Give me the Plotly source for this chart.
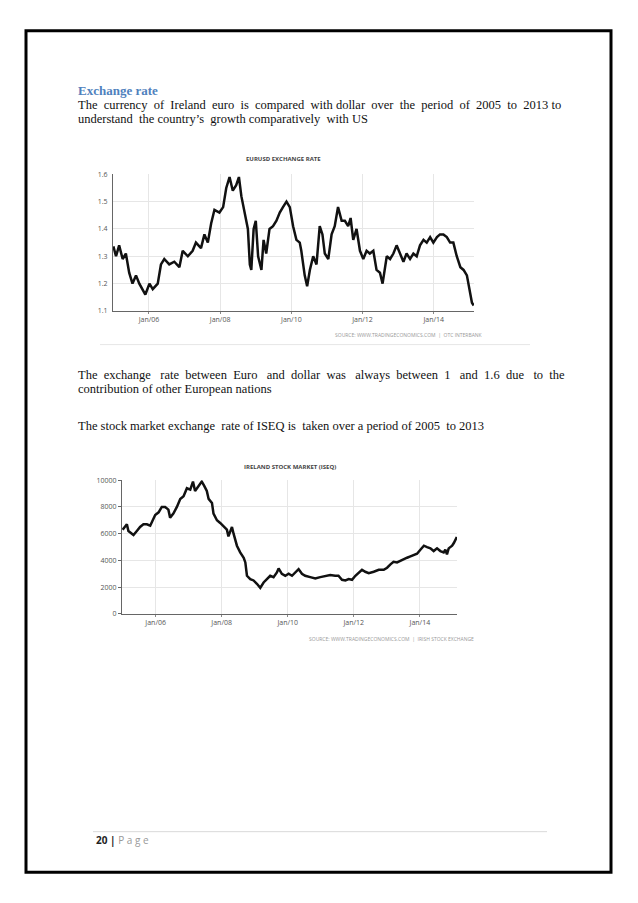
import plotly.graph_objects as go

W, H = 638, 903

# ---------------- data ----------------
eur_dates = ["2005-01-01","2005-01-28","2005-03-01","2005-04-06","2005-05-09","2005-06-12","2005-07-16","2005-08-21",
             "2005-09-24","2005-10-28","2005-11-25","2006-01-06","2006-02-09","2006-04-01","2006-05-04","2006-06-07",
             "2006-07-28","2006-09-18","2006-11-09","2006-12-13","2007-02-04","2007-03-25","2007-04-28","2007-06-19",
             "2007-07-24","2007-08-28","2007-10-01","2007-11-04","2007-12-25","2008-02-01","2008-03-04","2008-04-07",
             "2008-05-10","2008-06-14","2008-07-12","2008-08-06","2008-09-09","2008-10-12","2008-11-01","2008-11-16",
             "2008-12-10","2009-01-01","2009-01-25","2009-02-28","2009-03-22","2009-04-18","2009-05-22","2009-06-27",
             "2009-08-01","2009-09-04","2009-10-07","2009-11-12","2009-12-16","2010-01-19","2010-02-22","2010-03-28",
             "2010-04-13","2010-05-18","2010-06-12","2010-07-10","2010-08-13","2010-09-16","2010-10-19","2010-11-16",
             "2010-12-10","2011-01-15","2011-02-18","2011-03-22","2011-04-25","2011-06-01","2011-07-04","2011-08-07",
             "2011-09-01","2011-09-28","2011-11-01","2011-12-06","2012-01-09","2012-02-12","2012-03-16","2012-04-21",
             "2012-05-24","2012-06-28","2012-07-25","2012-09-06","2012-10-10","2012-11-13","2012-12-16","2013-01-21",
             "2013-02-24","2013-03-28","2013-05-03","2013-06-06","2013-07-10","2013-08-13","2013-09-18","2013-10-21",
             "2013-11-25","2013-12-28","2014-02-03","2014-03-06","2014-04-10","2014-05-15","2014-06-18","2014-07-21",
             "2014-08-25","2014-10-01","2014-11-03","2014-12-07","2015-01-03","2015-01-28","2015-02-15"]
eur_values = [1.336,1.30,1.34,1.29,1.31,1.24,1.20,1.23,
              1.20,1.18,1.16,1.20,1.18,1.20,1.27,1.29,
              1.27,1.28,1.26,1.32,1.30,1.32,1.35,1.33,
              1.38,1.35,1.42,1.47,1.46,1.48,1.55,1.59,
              1.54,1.56,1.59,1.52,1.46,1.40,1.27,1.25,
              1.40,1.43,1.30,1.25,1.36,1.31,1.40,1.41,
              1.43,1.46,1.48,1.50,1.48,1.41,1.36,1.35,
              1.32,1.23,1.19,1.25,1.30,1.27,1.41,1.38,
              1.31,1.29,1.38,1.41,1.48,1.43,1.43,1.41,
              1.44,1.36,1.40,1.32,1.29,1.32,1.31,1.32,
              1.25,1.24,1.20,1.30,1.29,1.31,1.34,1.31,
              1.28,1.31,1.29,1.31,1.30,1.34,1.36,1.35,
              1.37,1.35,1.37,1.38,1.38,1.37,1.35,1.35,
              1.30,1.26,1.25,1.23,1.18,1.13,1.12]

iseq_dates = ["2005-01-01","2005-01-30","2005-02-17","2005-03-06","2005-04-12","2005-05-01","2005-06-07","2005-07-13",
              "2005-08-19","2005-09-26","2005-11-02","2005-11-20","2005-12-27","2006-02-03","2006-03-10","2006-04-16",
              "2006-05-22","2006-06-10","2006-07-16","2006-08-24","2006-09-30","2006-11-06","2006-12-13","2007-01-19",
              "2007-02-18","2007-03-13","2007-04-19","2007-05-26","2007-06-21","2007-07-21","2007-08-10","2007-09-16",
              "2007-10-03","2007-11-10","2007-12-16","2008-01-22","2008-02-28","2008-03-16","2008-04-24","2008-05-12",
              "2008-06-18","2008-07-24","2008-09-01","2008-09-19","2008-10-07","2008-11-13","2008-12-19","2009-01-25",
              "2009-03-03","2009-04-09","2009-05-15","2009-06-21","2009-07-28","2009-09-03","2009-09-22","2009-10-28",
              "2009-12-05","2010-01-11","2010-02-17","2010-03-25","2010-05-01","2010-06-07","2010-07-13","2010-09-07",
              "2010-11-02","2010-12-27","2011-02-21","2011-04-16","2011-06-10","2011-07-16","2011-08-24","2011-10-01",
              "2011-11-06","2011-12-13","2012-01-19","2012-02-25","2012-04-01","2012-05-07","2012-06-15","2012-08-09",
              "2012-10-04","2012-11-28","2013-01-04","2013-02-10","2013-03-16","2013-04-24","2013-06-01","2013-07-07",
              "2013-08-13","2013-09-19","2013-10-25","2013-12-01","2014-01-07","2014-02-15","2014-03-22","2014-04-28",
              "2014-06-03","2014-07-10","2014-08-16","2014-09-22","2014-10-10","2014-10-28","2014-11-16","2014-12-24",
              "2015-01-12","2015-01-31","2015-02-14"]
iseq_values = [6300,6500,6700,6200,6000,5900,6200,6500,
               6700,6700,6600,6900,7400,7600,8000,8000,
               7800,7200,7500,8000,8600,8800,9400,9300,
               9900,9200,9600,9900,9600,9200,8600,8300,
               7500,7000,6800,6550,6300,5800,6500,6000,
               5100,4600,4200,3850,2850,2600,2500,2250,
               1950,2350,2600,2850,2750,3100,3400,3000,
               2850,3000,2850,3100,3350,3000,2850,2750,
               2650,2750,2850,2900,2850,2850,2550,2500,
               2600,2550,2850,3100,3300,3150,3050,3150,
               3300,3300,3450,3700,3900,3850,3950,4100,
               4200,4300,4400,4500,4800,5100,5000,4900,
               4700,4900,4700,4600,4800,4450,4900,5100,
               5300,5600,5750]

eur_ticks = [1.1, 1.2, 1.3, 1.4, 1.5, 1.6]
eur_tick_text = ["1.1", "1.2", "1.3", "1.4", "1.5", "1.6"]
iseq_ticks = [0, 2000, 4000, 6000, 8000, 10000]
iseq_tick_text = ["0", "2000", "4000", "6000", "8000", "10000"]
year_ticks = ["2006-01-01", "2008-01-01", "2010-01-01", "2012-01-01", "2014-01-01"]
year_tick_text = ["Jan/06", "Jan/08", "Jan/10", "Jan/12", "Jan/14"]

# ---------------- helpers ----------------
def fx(px):
    return px / W

def fy(py):
    return 1 - py / H

NB = "\u00a0"
TICKFONT = dict(family="Open Sans, Arial, sans-serif", size=7, color="#555")
GRID = "#e6e6e6"

fig = go.Figure()
fig.add_trace(go.Scatter(x=eur_dates, y=eur_values, mode="lines",
                         line=dict(color="#111", width=2.5), xaxis="x", yaxis="y", showlegend=False,
                         hoverinfo="skip"))
fig.add_trace(go.Scatter(x=iseq_dates, y=iseq_values, mode="lines",
                         line=dict(color="#111", width=2.5), xaxis="x2", yaxis="y2", showlegend=False,
                         hoverinfo="skip"))

xcommon = dict(type="date", tickvals=year_ticks, ticktext=year_tick_text, tickfont=TICKFONT,
               showgrid=True, gridcolor=GRID, gridwidth=1, showline=True, linecolor="#666", linewidth=1,
               ticks="outside", ticklen=2, tickcolor="#888", zeroline=False, fixedrange=True)

layout = dict(
    width=W, height=H, margin=dict(l=0, r=0, t=0, b=0),
    paper_bgcolor="white", plot_bgcolor="white", showlegend=False,
    xaxis=dict(domain=[fx(113), fx(474)], range=["2004-12-28", "2015-02-18"], anchor="y", **xcommon),
    yaxis=dict(domain=[fy(309), fy(171)], range=[1.1, 1.6], tickvals=eur_ticks, ticktext=eur_tick_text,
               tickfont=TICKFONT, showgrid=True, gridcolor=GRID, showline=True, linecolor="#666",
               ticks="", zeroline=False, anchor="x", ticklabelstandoff=3),
    yaxis3=dict(overlaying="y", side="right", anchor="x", range=[1.1, 1.6], tickvals=eur_ticks,
                ticktext=eur_tick_text, tickfont=TICKFONT, showgrid=False, showline=True, linecolor="#666",
                ticks="outside", ticklen=3, tickcolor="#666", zeroline=False),
    xaxis2=dict(domain=[fx(122), fx(457)], range=["2004-12-25", "2015-02-16"], anchor="y2", **xcommon),
    yaxis2=dict(domain=[fy(615), fy(480)], range=[0, 10000], tickvals=iseq_ticks, ticktext=iseq_tick_text,
                tickfont=TICKFONT, showgrid=True, gridcolor=GRID, showline=True, linecolor="#666",
                ticks="outside", ticklen=3, tickcolor="#666", zeroline=False, anchor="x2"),
    yaxis4=dict(overlaying="y2", side="right", anchor="x2", range=[0, 10000], tickvals=iseq_ticks,
                ticktext=iseq_tick_text, tickfont=TICKFONT, showgrid=False, showline=True, linecolor="#999",
                linewidth=2, ticks="outside", ticklen=3, tickcolor="#888", zeroline=False),
)
fig.update_layout(**layout)

serif = "Liberation Serif, Times New Roman, serif"
body = dict(family=serif, size=12.5, color="#111")

def text(x, y, s, font, anchor="left"):
    fig.add_annotation(x=fx(x), y=fy(y), xref="paper", yref="paper", text=s, showarrow=False,
                       xanchor=anchor, yanchor="middle", font=font, align="left")

def just(s, gaps):
    # gaps: number of non-breaking spaces per word gap (to imitate justified text)
    words = s.split(" ")
    out = words[0]
    for i, w in enumerate(words[1:]):
        out += NB * gaps[i % len(gaps)] + w
    return out

text(76, 86, "<b>Exchange rate</b>", dict(family="Liberation Serif, Cambria, serif", size=13, color="#4f81bd"))
text(76, 101, just("The currency of Ireland euro is compared with dollar over the period of 2005 to 2013 to",
                   [2, 2, 2, 2, 2, 2, 2, 1, 2, 2, 2, 2, 2, 2, 2, 1]), body)
text(76, 115, just("understand the country\u2019s growth comparatively with US", [2, 1, 2, 1, 2, 1]), body)
text(76, 374, just("The exchange rate between Euro and dollar was always between 1 and 1.6 due to the",
                   [2, 3, 2, 2, 3, 2, 2, 3, 2, 2, 3, 2, 2, 3, 2, 2]), body)
text(76, 388, "contribution of other European nations", body)
text(76, 425, just("The stock market exchange rate of ISEQ is taken over a period of 2005 to 2013",
                   [1, 1, 1, 2, 1, 1, 1, 2, 1, 1, 1, 1, 1, 2, 1]), body)

titlefont = dict(family="Open Sans, Arial, sans-serif", size=6, color="#444")
text(283, 156, "<b>EURUSD EXCHANGE RATE</b>", titlefont, "center")
text(290, 467, "<b>IRELAND STOCK MARKET (ISEQ)</b>", titlefont, "center")
srcfont = dict(family="Open Sans, Arial, sans-serif", size=5, color="#999")
text(485, 333, "SOURCE: WWW.TRADINGECONOMICS.COM  |  OTC INTERBANK", srcfont, "right")
text(476, 640, "SOURCE: WWW.TRADINGECONOMICS.COM  |  IRISH STOCK EXCHANGE", srcfont, "right")

footfont = dict(family="Open Sans, Calibri, sans-serif", size=10, color="#222")
fig.add_annotation(x=fx(94), y=fy(843), xref="paper", yref="paper", showarrow=False, xanchor="left",
                   yanchor="middle", font=footfont,
                   text="<b>20 |</b> <span style='color:#999'>P a g e</span>")

shapes = [
    dict(type="rect", xref="paper", yref="paper", x0=fx(26), x1=fx(611), y0=fy(876), y1=fy(26),
         line=dict(color="black", width=3)),
    dict(type="line", xref="paper", yref="paper", x0=fx(93), x1=fx(547), y0=fy(835), y1=fy(835),
         line=dict(color="#d9d9d9", width=1)),
    dict(type="line", xref="paper", yref="paper", x0=fx(100), x1=fx(530), y0=fy(343), y1=fy(343),
         line=dict(color="#e6e6e6", width=1)),
]
fig.update_layout(shapes=shapes)

fig.write_html("out.html", config={"displayModeBar": False, "staticPlot": True},
               post_script="document.body.style.margin='0px';document.body.style.overflow='hidden';")
